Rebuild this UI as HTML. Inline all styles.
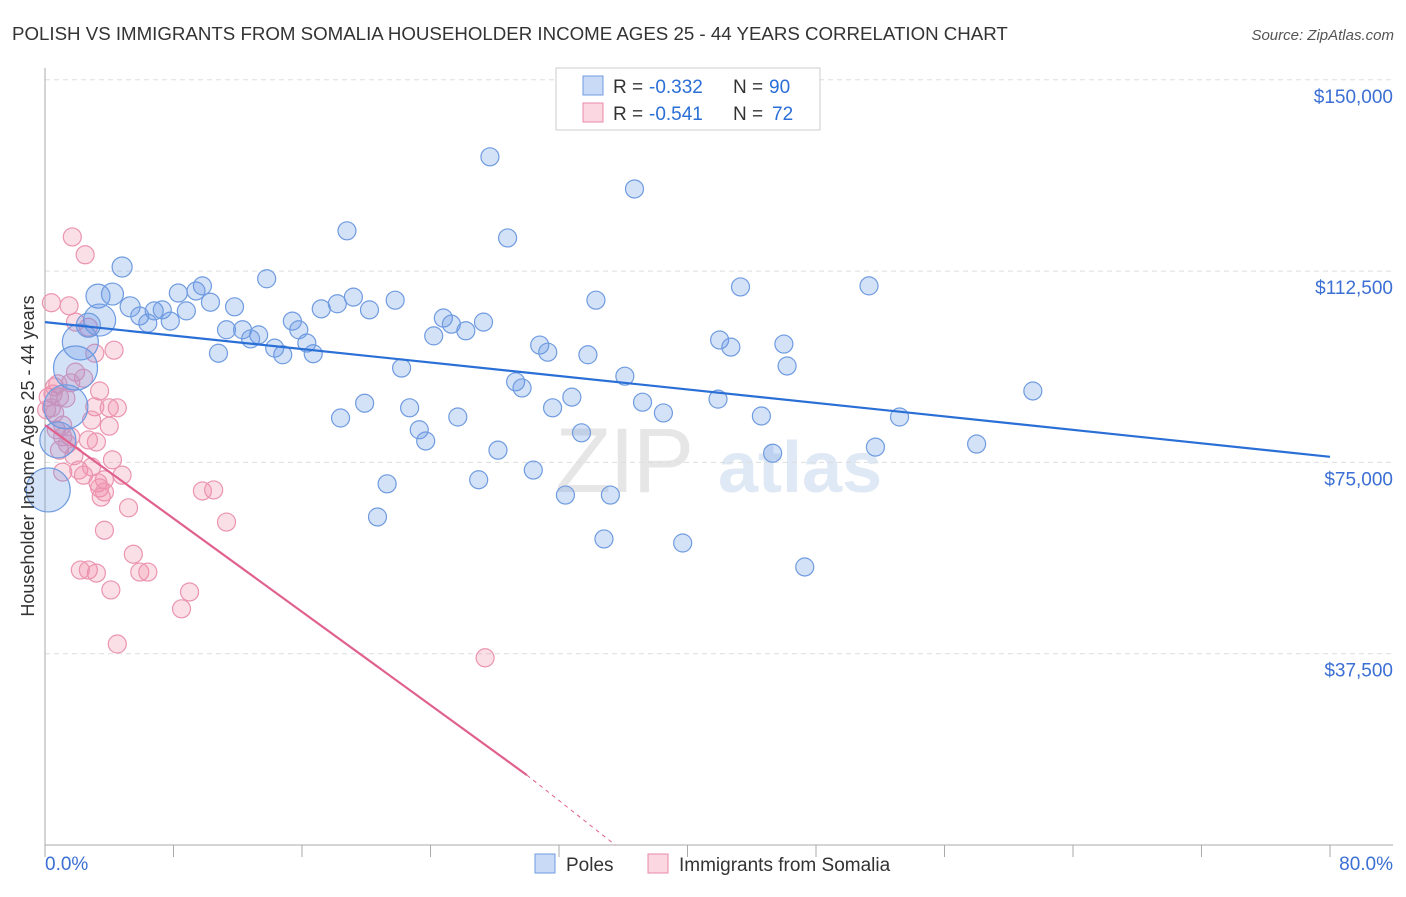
<!DOCTYPE html>
<html><head><meta charset="utf-8"><style>
body{margin:0;background:#fff;font-family:"Liberation Sans",sans-serif;}
svg text{font-family:"Liberation Sans",sans-serif;}
</style></head><body>
<svg id="chart" width="1406" height="892" viewBox="0 0 1406 892" xmlns="http://www.w3.org/2000/svg">
<text x="12" y="40" font-size="18.7" fill="#333">POLISH VS IMMIGRANTS FROM SOMALIA HOUSEHOLDER INCOME AGES 25 - 44 YEARS CORRELATION CHART</text>
<text x="1394" y="40" font-size="15" fill="#555" font-style="italic" text-anchor="end">Source: ZipAtlas.com</text>
<g>
<text x="555" y="492" font-size="92" fill="#e6e6e6" font-family="Liberation Serif" letter-spacing="-2">ZIP</text>
<text x="718" y="492" font-size="72" fill="#dfe8f5" font-weight="bold">atlas</text>
</g>
<g id="grid"></g>
<g id="axes"></g>
<g id="pts"></g>
<g id="trend"></g>
<text transform="translate(34,456) rotate(-90)" font-size="18" fill="#333" text-anchor="middle">Householder Income Ages 25 - 44 years</text>
<g>
<rect x="556" y="68" width="264" height="62" fill="#fff" stroke="#ccc"/>
<rect x="583" y="76" width="20" height="19" fill="rgba(100,150,230,0.35)" stroke="#6f9be0"/>
<text x="613" y="93" font-size="19" fill="#333">R =</text>
<text x="649" y="93" font-size="19" fill="#2a6fd6">-0.332</text>
<text x="733" y="93" font-size="19" fill="#333">N =</text>
<text x="769" y="93" font-size="19" fill="#2a6fd6">90</text>
<rect x="583" y="103" width="20" height="19" fill="rgba(240,140,170,0.35)" stroke="#e98aa8"/>
<text x="613" y="120" font-size="19" fill="#333">R =</text>
<text x="649" y="120" font-size="19" fill="#2a6fd6">-0.541</text>
<text x="733" y="120" font-size="19" fill="#333">N =</text>
<text x="772" y="120" font-size="19" fill="#2a6fd6">72</text>
</g>
<g>
<rect x="535" y="854" width="20" height="19" fill="rgba(100,150,230,0.35)" stroke="#6f9be0"/>
<text x="566" y="871" font-size="19" fill="#333">Poles</text>
<rect x="648" y="854" width="20" height="19" fill="rgba(240,140,170,0.35)" stroke="#e98aa8"/>
<text x="679" y="871" font-size="19" fill="#333">Immigrants from Somalia</text>
</g>
</svg>
<script>
const yTicks=[37.5,75,112.5,150];
const yTickLabels=["$37,500","$75,000","$112,500","$150,000"];
const xTicks=[0,8,16,24,32,40,48,56,64,72,80];
const polesX=[27.7,36.7,18.8,28.8,4.8,13.8,43.3,51.3,3.3,4.2,9.8,8.3,9.4,10.3,11.8,19.2,21.8,5.3,6.8,7.3,8.8,5.9,6.4,7.8,18.2,17.2,20.2,34.3,24.8,27.3,25.3,26.2,24.2,15.4,15.8,11.3,12.3,13.3,12.8,14.3,14.8,16.7,16.3,10.8,2.7,3.4,2.2,1.9,30.8,31.3,33.8,42.0,42.7,46.0,46.2,22.2,29.3,29.7,36.1,32.8,31.6,37.2,38.5,41.9,44.6,61.5,53.2,19.9,18.4,22.7,23.3,23.7,25.7,33.4,28.2,27.0,30.4,21.3,32.4,35.2,51.7,58.0,45.3,20.7,34.8,39.7,47.3,1.3,0.8,0.2];
const polesY=[134.9,128.6,120.4,119.0,113.3,111.0,109.4,109.6,107.6,108.0,109.6,108.2,108.6,106.4,105.5,107.4,106.8,105.5,104.7,104.9,104.7,103.7,102.3,102.7,106.1,105.1,104.9,106.8,103.3,102.5,102.1,100.8,99.8,102.7,101.0,101.0,101.0,100.0,99.2,97.4,96.1,96.3,98.4,96.4,101.9,102.9,98.6,93.5,98.0,96.6,96.1,99.0,97.6,98.2,93.9,93.5,90.8,89.6,91.9,87.8,85.7,86.8,84.7,87.4,84.1,89.0,83.9,86.6,83.7,85.7,81.4,79.2,83.9,80.8,77.4,71.6,73.5,70.8,68.6,68.6,78.0,78.6,76.8,64.3,60.0,59.2,54.5,85.9,79.4,69.6];
const polesSize=[9,9,9,9,10,9,9,9,12,11,9,9,9,9,9,9,9,10,9,9,9,9,9,9,9,9,9,9,9,9,9,9,9,9,9,9,9,9,9,9,9,9,9,9,12,16,18,22,9,9,9,9,9,9,9,9,9,9,9,9,9,9,9,9,9,9,9,9,9,9,9,9,9,9,9,9,9,9,9,9,9,9,9,9,9,9,9,22,18,22];
const somaliaX=[1.7,2.5,0.4,1.5,1.9,2.7,4.3,3.1,1.9,2.4,1.6,0.8,3.4,0.2,0.5,0.9,1.3,0.4,0.1,0.6,3.1,4.0,4.5,2.9,4.0,0.7,1.1,1.6,2.7,3.2,0.9,1.8,4.2,1.1,2.1,2.9,2.4,3.7,4.8,3.3,3.4,3.7,3.5,5.2,9.8,10.5,11.3,3.7,5.5,2.2,2.7,3.2,5.9,6.4,4.1,9.0,8.5,4.5,27.4,1.1,1.4,0.6];
const somaliaY=[119.2,115.7,106.3,105.7,102.5,101.5,97.0,96.4,92.7,91.5,90.6,90.4,89.0,87.8,88.4,87.8,87.6,85.7,85.3,84.7,85.9,85.7,85.7,83.3,82.1,81.4,80.0,80.0,79.4,79.0,77.4,76.3,75.5,73.1,73.5,74.1,72.5,71.6,72.5,71.0,70.0,69.2,68.2,66.1,69.4,69.6,63.3,61.7,57.0,53.9,53.9,53.3,53.5,53.5,50.0,49.6,46.3,39.4,36.7,82.3,78.6,89.8];
const polesTrend=[[0,102.5],[80,76.1]];
const somaliaTrendSolid=[[0,82.3],[30.0,13.7]];
const somaliaTrendDash=[[30.0,13.7],[35.5,0]];
const NS="http://www.w3.org/2000/svg";
const X0=45,X1=1330,Y0=845,PXK=191.3/37.5;
const xs=v=>X0+v*(X1-X0)/80, ys=v=>Y0-v*PXK;
function mk(tag,attrs,parent){const e=document.createElementNS(NS,tag);for(const k in attrs)e.setAttribute(k,attrs[k]);parent.appendChild(e);return e;}
const grid=document.getElementById('grid'),axes=document.getElementById('axes'),pts=document.getElementById('pts'),trend=document.getElementById('trend');
yTicks.forEach((t,i)=>{
 const l=mk('line',{x1:X0,x2:1393,y1:ys(t),y2:ys(t),stroke:'#ddd','stroke-dasharray':'5,4'},grid);
 
 
 const tx=mk('text',{x:1393,y:ys(t)+23,'font-size':19,fill:'#3b6fd4','text-anchor':'end'},axes);
 tx.textContent=yTickLabels[i];
 
 
});
let a=mk('line',{x1:X0,x2:X0,y1:68,y2:Y0,stroke:'#aaa'},axes);


a=mk('line',{x1:X0,x2:1393,y1:Y0,y2:Y0,stroke:'#aaa'},axes);


xTicks.forEach(t=>{const k=mk('line',{x1:xs(t),x2:xs(t),y1:Y0,y2:Y0+12,stroke:'#aaa'},axes);
 
 });
let xl=mk('text',{x:45,y:870,'font-size':19,fill:'#3b6fd4'},axes);xl.textContent='0.0%';


xl=mk('text',{x:1393,y:870,'font-size':19,fill:'#3b6fd4','text-anchor':'end'},axes);xl.textContent='80.0%';


somaliaX.forEach((v,i)=>{const c=mk('circle',{cx:xs(v),cy:ys(somaliaY[i]),r:9,fill:'rgba(240,140,170,0.28)',stroke:'#eb94b0','stroke-width':1.2},pts);
 
 });
polesX.forEach((v,i)=>{const c=mk('circle',{cx:xs(v),cy:ys(polesY[i]),r:polesSize[i],fill:'rgba(100,150,230,0.28)',stroke:'#6f9be0','stroke-width':1.2},pts);
 
 });
let t=mk('line',{x1:xs(polesTrend[0][0]),y1:ys(polesTrend[0][1]),x2:xs(polesTrend[1][0]),y2:ys(polesTrend[1][1]),stroke:'#2a6fd6','stroke-width':2.2},trend);


t=mk('line',{x1:xs(somaliaTrendSolid[0][0]),y1:ys(somaliaTrendSolid[0][1]),x2:xs(somaliaTrendSolid[1][0]),y2:ys(somaliaTrendSolid[1][1]),stroke:'#e0608e','stroke-width':2.2},trend);


t=mk('line',{x1:xs(somaliaTrendDash[0][0]),y1:ys(somaliaTrendDash[0][1]),x2:xs(somaliaTrendDash[1][0]),y2:ys(somaliaTrendDash[1][1]),stroke:'#e0608e','stroke-width':1,'stroke-dasharray':'4,4'},trend);


</script>
</body></html>
